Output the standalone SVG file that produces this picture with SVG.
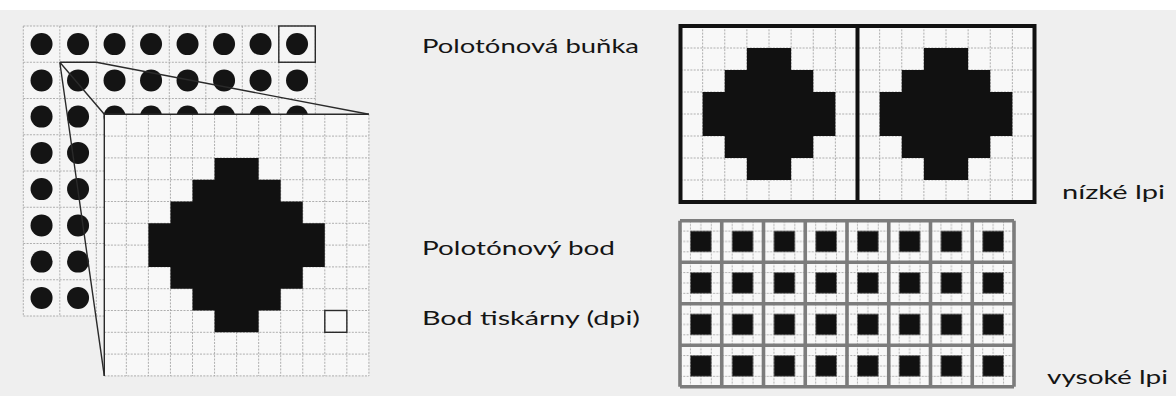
<svg xmlns="http://www.w3.org/2000/svg" xmlns:xlink="http://www.w3.org/1999/xlink" width="1176" height="396" viewBox="0 0 1176 396">
<style>
.thin{stroke:#9c9c9c;stroke-width:0.8;stroke-dasharray:2 1.3;fill:none}
.solid{stroke:#2a2a2a;stroke-width:1.4;fill:none}
.dot{fill:#141414}
.blk{fill:#111}
.lbl{font-family:Lato,"Open Sans","Liberation Sans",sans-serif;font-size:20px;fill:#151515}
.thick{stroke:#111;stroke-width:4;fill:none}
.gb{stroke:#7c7c7c;stroke-width:3.6;fill:none}
</style>
<defs>
<path id="dia8" d="M66.375,22H110.625V44H132.75V66H154.875V110H132.75V132H110.625V154H66.375V132H44.25V110H22.125V66H44.25V44H66.375Z"/>
<pattern id="hcell" x="680" y="220.7" width="41.75" height="41.5" patternUnits="userSpaceOnUse">
<rect width="41.75" height="41.5" fill="#f8f8f8"/>
<path class="thin" d="M10.44,0V41.5M20.875,0V41.5M31.31,0V41.5M0,10.375H41.75M0,20.75H41.75M0,31.125H41.75"/>
<rect x="10.44" y="10.375" width="20.87" height="20.75" fill="#111"/>
</pattern>
</defs>
<rect width="1176" height="396" fill="#efefef"/>
<rect width="1176" height="10" fill="#ffffff"/>

<g id="dot-grid">
<rect x="23.3" y="26" width="292" height="290" fill="#f5f5f5"/>
<path class="thin" d="M23.3,26V316M59.8,26V316M96.3,26V316M132.8,26V316M169.3,26V316M205.8,26V316M242.3,26V316M278.8,26V316M315.3,26V316M23.3,26H315.3M23.3,62.25H315.3M23.3,98.5H315.3M23.3,134.75H315.3M23.3,171H315.3M23.3,207.25H315.3M23.3,243.5H315.3M23.3,279.75H315.3M23.3,316H315.3"/>
<g class="dot">
<circle cx="41.55" cy="44.1" r="11"/><circle cx="78.05" cy="44.1" r="11"/><circle cx="114.55" cy="44.1" r="11"/><circle cx="151.05" cy="44.1" r="11"/><circle cx="187.55" cy="44.1" r="11"/><circle cx="224.05" cy="44.1" r="11"/><circle cx="260.55" cy="44.1" r="11"/><circle cx="297.05" cy="44.1" r="11"/>
<circle cx="41.55" cy="80.4" r="11"/><circle cx="78.05" cy="80.4" r="11"/><circle cx="114.55" cy="80.4" r="11"/><circle cx="151.05" cy="80.4" r="11"/><circle cx="187.55" cy="80.4" r="11"/><circle cx="224.05" cy="80.4" r="11"/><circle cx="260.55" cy="80.4" r="11"/><circle cx="297.05" cy="80.4" r="11"/>
<circle cx="41.55" cy="116.6" r="11"/><circle cx="78.05" cy="116.6" r="11"/><circle cx="114.55" cy="116.6" r="11"/><circle cx="151.05" cy="116.6" r="11"/><circle cx="187.55" cy="116.6" r="11"/><circle cx="224.05" cy="116.6" r="11"/><circle cx="260.55" cy="116.6" r="11"/><circle cx="297.05" cy="116.6" r="11"/>
<circle cx="41.55" cy="152.9" r="11"/><circle cx="78.05" cy="152.9" r="11"/>
<circle cx="41.55" cy="189.1" r="11"/><circle cx="78.05" cy="189.1" r="11"/>
<circle cx="41.55" cy="225.4" r="11"/><circle cx="78.05" cy="225.4" r="11"/>
<circle cx="41.55" cy="261.6" r="11"/><circle cx="78.05" cy="261.6" r="11"/>
<circle cx="41.55" cy="297.9" r="11"/><circle cx="78.05" cy="297.9" r="11"/>
</g>
<rect class="solid" x="278.8" y="26" width="36.5" height="36.25"/>
</g>

<g id="connectors">
<path class="solid" d="M59.8,62.25H96.3L368.9,114.3M59.8,62.25L104.3,114.3M59.8,62.25L104.3,375.9"/>
</g>

<g id="enlarged-cell">
<rect x="104.3" y="114.3" width="264.6" height="261.6" fill="#f8f8f8"/>
<path class="thin" d="M126.35,114.3V375.9M148.4,114.3V375.9M170.45,114.3V375.9M192.5,114.3V375.9M214.55,114.3V375.9M236.6,114.3V375.9M258.65,114.3V375.9M280.7,114.3V375.9M302.75,114.3V375.9M324.8,114.3V375.9M346.85,114.3V375.9M368.9,114.3V375.9M104.3,136.1H368.9M104.3,157.9H368.9M104.3,179.7H368.9M104.3,201.5H368.9M104.3,223.3H368.9M104.3,245.1H368.9M104.3,266.9H368.9M104.3,288.7H368.9M104.3,310.5H368.9M104.3,332.3H368.9M104.3,354.1H368.9M104.3,375.9H368.9"/>
<path class="blk" d="M214.55,157.9H258.65V179.7H280.7V201.5H302.75V223.3H324.8V266.9H302.75V288.7H280.7V310.5H258.65V332.3H214.55V310.5H192.5V288.7H170.45V266.9H148.4V223.3H170.45V201.5H192.5V179.7H214.55Z"/>
<rect class="solid" x="324.8" y="310.5" width="22.05" height="21.8"/>
<path class="solid" d="M104.3,375.9V114.3H368.9"/>
</g>

<g id="low-lpi">
<rect x="680.5" y="26" width="354" height="176" fill="#f8f8f8"/>
<path class="thin" d="M702.625,26V202M724.75,26V202M746.875,26V202M769,26V202M791.125,26V202M813.25,26V202M835.375,26V202M879.625,26V202M901.75,26V202M923.875,26V202M946,26V202M968.125,26V202M990.25,26V202M1012.375,26V202M680.5,48H1034.5M680.5,70H1034.5M680.5,92H1034.5M680.5,114H1034.5M680.5,136H1034.5M680.5,158H1034.5M680.5,180H1034.5"/>
<use xlink:href="#dia8" class="blk" transform="translate(680.5,26)"/>
<use xlink:href="#dia8" class="blk" transform="translate(857.5,26)"/>
<rect class="thick" x="680.5" y="26" width="354" height="176"/>
<path class="thick" d="M857.5,26V202"/>
</g>

<g id="high-lpi">
<rect x="680" y="220.7" width="334" height="166" fill="url(#hcell)"/>
<path class="gb" d="M680,220.7V386.7M721.75,220.7V386.7M763.5,220.7V386.7M805.25,220.7V386.7M847,220.7V386.7M888.75,220.7V386.7M930.5,220.7V386.7M972.25,220.7V386.7M1014,220.7V386.7M680,220.7H1014M680,262.2H1014M680,303.7H1014M680,345.2H1014M680,386.7H1014"/>
</g>

<g id="labels">
<text class="lbl" x="422" y="53" textLength="217" lengthAdjust="spacingAndGlyphs">Polotónová buňka</text>
<text class="lbl" x="422" y="255" textLength="193" lengthAdjust="spacingAndGlyphs">Polotónový bod</text>
<text class="lbl" x="422" y="325" textLength="218" lengthAdjust="spacingAndGlyphs">Bod tiskárny (dpi)</text>
<text class="lbl" x="1062" y="199" textLength="103" lengthAdjust="spacingAndGlyphs">nízké lpi</text>
<text class="lbl" x="1047" y="384" textLength="121" lengthAdjust="spacingAndGlyphs">vysoké lpi</text>
</g>
</svg>
